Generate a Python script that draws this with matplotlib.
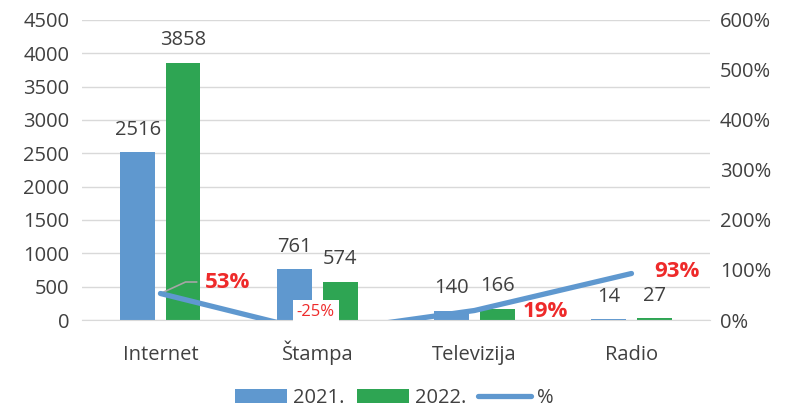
import matplotlib
matplotlib.use("Agg")
import matplotlib.pyplot as plt
import numpy as np

categories = ["Internet", "Štampa", "Televizija", "Radio"]
y2021 = [2516, 761, 140, 14]
y2022 = [3858, 574, 166, 27]
pct = [53, -25, 19, 93]
pct_labels = ["53%", "-25%", "19%", "93%"]
left_ticks = [0, 500, 1000, 1500, 2000, 2500, 3000, 3500, 4000, 4500]
right_ticks = [0, 100, 200, 300, 400, 500, 600]

plt.rcParams['font.family'] = ['Open Sans', 'DejaVu Sans']
blue = "#5F98CF"
green = "#2EA553"
grey_txt = "#404040"
FS = 14.5

fig = plt.figure(figsize=(7.88, 4.12), dpi=100)
ax = fig.add_axes([0.104, 0.2233, 0.797, 0.7282])
x = np.arange(len(categories))
w = 0.22
off = 0.145
b1 = ax.bar(x - off, y2021, w, color=blue, label="2021.", zorder=2)
b2 = ax.bar(x + off, y2022, w, color=green, label="2022.", zorder=2)
ax.set_ylim(0, 4500)
ax.set_xlim(-0.5, 3.5)
ax.set_yticks(left_ticks)
ax.grid(axis='y', color="#D9D9D9", lw=1, zorder=0)
for s in ['top', 'right', 'left']:
    ax.spines[s].set_visible(False)
ax.spines['bottom'].set_color("#D9D9D9")
ax.tick_params(axis='both', length=0, labelsize=FS, colors=grey_txt)
ax.tick_params(axis='y', pad=9)
ax.tick_params(axis='x', pad=29)
ax.set_xticks(x)
ax.set_xticklabels(categories, va='baseline')
for bars, vals in ((b1, y2021), (b2, y2022)):
    for r, v in zip(bars, vals):
        ax.annotate(str(v), (r.get_x() + r.get_width() / 2, v), xytext=(0, 9),
                    textcoords="offset points", ha="center", va="bottom",
                    fontsize=FS, color=grey_txt)

ax2 = ax.twinx()
ax2.set_ylim(0, 600)
ax2.set_yticks(right_ticks)
ax2.set_yticklabels([f"{t}%" for t in right_ticks])
for s in ['top', 'right', 'left', 'bottom']:
    ax2.spines[s].set_visible(False)
ax2.tick_params(axis='y', length=0, labelsize=FS, colors=grey_txt, pad=7)
line, = ax2.plot(x, pct, color=blue, lw=3.8, solid_capstyle='round', label="%", zorder=3)

red = "#EE2A2A"
ax2.plot([x[0], x[0] + 0.16, x[0] + 0.23], [pct[0], 76, 76], color="#A6A6A6", lw=1.2, zorder=2.5)
ax2.text(x[0] + 0.28, 74, pct_labels[0], color=red, fontsize=16, fontweight='bold', va='center', ha='left')
ax2.text(x[1] - 0.01, 15, pct_labels[1], color=red, fontsize=12, va='center', ha='center',
         bbox=dict(facecolor='white', edgecolor='none', pad=3))
ax2.text(x[2] + 0.45, 16, pct_labels[2], color=red, fontsize=16, fontweight='bold', va='center', ha='center')
ax2.text(x[3] + 0.29, 96, pct_labels[3], color=red, fontsize=16, fontweight='bold', va='center', ha='center')

handles = [b1, b2, line]
fig.legend(handles, ["2021.", "2022.", "%"], loc='lower center', ncol=3, frameon=False,
           bbox_to_anchor=(0.5, -0.035), fontsize=FS, labelcolor=grey_txt,
           handlelength=2.6, handletextpad=0.3, columnspacing=0.6)

fig.savefig("out.png", dpi=100)
